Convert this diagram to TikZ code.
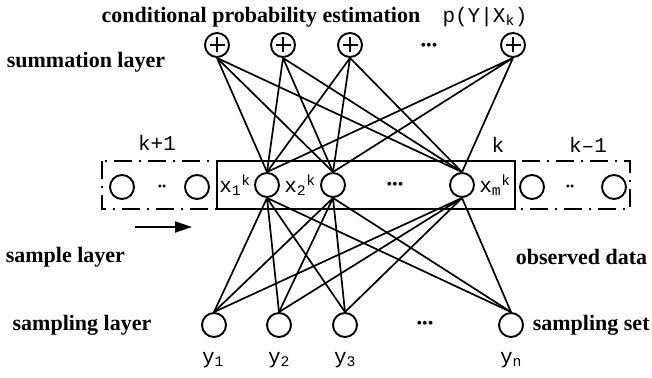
\documentclass[tikz,border=0pt]{standalone}
\usepackage{fontspec}
\setmainfont{Liberation Serif}
\newfontfamily\labfont{Liberation Mono}
\usetikzlibrary{arrows.meta}

\begin{document}
\begin{tikzpicture}[x=1pt, y=-1pt, line width=1.7pt, >={Triangle[length=17pt,width=11pt]}]
  \tikzset{unit/.style={draw, circle, minimum size=24pt, inner sep=0pt, line width=1.9pt},
    sumunit/.style={unit, path picture={
        \draw[line width=1.5pt] ([xshift=-7.5pt]path picture bounding box.center) -- ([xshift=7.5pt]path picture bounding box.center)
          ([yshift=-7.5pt]path picture bounding box.center) -- ([yshift=7.5pt]path picture bounding box.center);}},
    layer/.style={font=\fontsize{22}{26}\selectfont\bfseries, inner sep=0pt},
    lab/.style={font=\fontsize{21}{24}\selectfont\labfont, inner sep=0pt},
    dots/.style={font=\fontsize{16}{16}\selectfont, inner sep=0pt}}
  \useasboundingbox (0,0) rectangle (652,377);

  % summation layer
  \node[layer] (t) at (261,17) {conditional probability estimation};
  \node[lab] (p) at (485,17) {p(Y|X\textsubscript{k})};
  \node[layer] (sl) at (86,62) {summation layer};
  \node[sumunit] (s1) at (217,45) {};
  \node[sumunit] (s2) at (283,45) {};
  \node[sumunit] (s3) at (350,45) {};
  \node[dots] (sd) at (429,47) {\textbullet\textbullet\textbullet};
  \node[sumunit] (sn) at (513,45) {};

  % sample layer
  \draw[dash pattern=on 18pt off 7pt on 2pt off 7pt] (102,161) rectangle (630,209);
  \draw[line width=1.9pt] (217,161) rectangle (515,209);
  \node[lab] (kp) at (157,143) {k+1};
  \node[lab] (k) at (498,145) {k};
  \node[lab] (km) at (588,145) {k–1};
  \node[unit] (l1) at (122,187) {};
  \node[dots, font=\fontsize{12}{12}\selectfont] (ld) at (162,188) {\textbullet\textbullet};
  \node[unit] (l2) at (197,187) {};
  \node[lab] (x1l) at (235,185) {x\textsubscript{1}\textsuperscript{k}};
  \node[unit] (x1) at (267,185) {};
  \node[lab] (x2l) at (300,185) {x\textsubscript{2}\textsuperscript{k}};
  \node[unit] (x2) at (333,185) {};
  \node[dots] (xd) at (395,186) {\textbullet\textbullet\textbullet};
  \node[unit] (xm) at (462,185) {};
  \node[lab] (xml) at (495,185) {x\textsubscript{m}\textsuperscript{k}};
  \node[unit] (r1) at (532,187) {};
  \node[dots, font=\fontsize{12}{12}\selectfont] (rd) at (570,188) {\textbullet\textbullet};
  \node[unit] (r2) at (614,187) {};
  \coordinate (a0) at (135,227);
  \coordinate (a1) at (192,227);
  \draw[->, line width=1.9pt] (a0) -- (a1);
  \node[layer, anchor=west] (ml) at (5,257) {sample layer};
  \node[layer, anchor=east] (od) at (648,257) {observed data};

  % sampling layer
  \node[layer] (bl) at (82,325) {sampling layer};
  \node[unit] (y1) at (214,325) {};
  \node[unit] (y2) at (279,325) {};
  \node[unit] (y3) at (345,325) {};
  \node[dots] (yd) at (425,325) {\textbullet\textbullet\textbullet};
  \node[unit] (yn) at (511,325) {};
  \node[layer, anchor=west] (ss) at (532,325) {sampling set};
  \node[lab] (y1l) at (213,360) {y\textsubscript{1}};
  \node[lab] (y2l) at (279,360) {y\textsubscript{2}};
  \node[lab] (y3l) at (345,360) {y\textsubscript{3}};
  \node[lab] (ynl) at (511,360) {y\textsubscript{n}};

  % summation -> sample
  \draw (s1.south) -- (x1.north) (s1.south) -- (x2.north) (s1.south) -- (xm.north);
  \draw (s2.south) -- (x1.north) (s2.south) -- (x2.north) (s2.south) -- (xm.north);
  \draw (s3.south) -- (x1.north) (s3.south) -- (x2.north) (s3.south) -- (xm.north);
  \draw (sn.south) -- (x1.north) (sn.south) -- (x2.north) (sn.south) -- (xm.north);
  % sample -> sampling
  \draw (x1.south) -- (y1.north) (x1.south) -- (y2.north) (x1.south) -- (y3.north) (x1.south) -- (yn.north);
  \draw (x2.south) -- (y1.north) (x2.south) -- (y2.north) (x2.south) -- (y3.north) (x2.south) -- (yn.north);
  \draw (xm.south) -- (y1.north) (xm.south) -- (y2.north) (xm.south) -- (y3.north) (xm.south) -- (yn.north);
\end{tikzpicture}
\end{document}
